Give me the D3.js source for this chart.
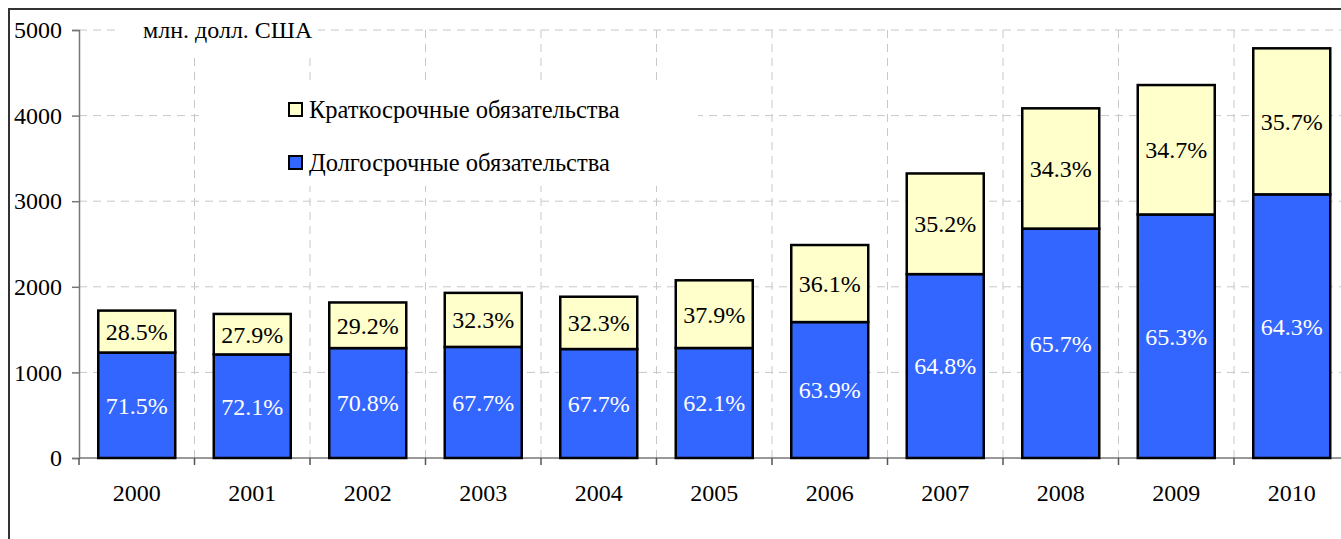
<!DOCTYPE html>
<html>
<head>
<meta charset="utf-8">
<script src="https://cdn.jsdelivr.net/npm/d3@7"></script>
<style>
    body { margin: 0; background: #fff; }
</style>
</head>
<body>
<svg class="chart" width="1341" height="539"></svg>
<script>
// Data
const years = ["2000", "2001", "2002", "2003", "2004", "2005", "2006", "2007", "2008", "2009", "2010"];
const longTerm = [1232, 1210, 1284, 1298, 1273, 1285, 1588, 2148, 2680, 2845, 3080];
const shortTerm = [490, 473, 533, 631, 611, 791, 900, 1176, 1405, 1512, 1706];
const longLabels = ["71.5%", "72.1%", "70.8%", "67.7%", "67.7%", "62.1%", "63.9%", "64.8%", "65.7%", "65.3%", "64.3%"];
const shortLabels = ["28.5%", "27.9%", "29.2%", "32.3%", "32.3%", "37.9%", "36.1%", "35.2%", "34.3%", "34.7%", "35.7%"];
const yTicks = [0, 1000, 2000, 3000, 4000, 5000];
const seriesNames = ["Краткосрочные обязательства", "Долгосрочные обязательства"];
const unitLabel = "млн. долл. США";

// Dimensions
const margin = { top: 30, left: 79 };
const plotWidth = 1270.5;
const plotHeight = 428;
const fontFamily = "Liberation Serif";

const colors = { short: "#ffffcc", long: "#3366ff" };

const svg = d3.select(".chart").attr("font-family", fontFamily);

// outer frame
svg.append("rect")
    .attr("x", 9).attr("y", 9)
    .attr("width", 1400).attr("height", 600)
    .attr("fill", "none")
    .attr("stroke", "#333")
    .attr("stroke-width", 2);

const g = svg.append("g").attr("transform", `translate(${margin.left},${margin.top})`);

const x = d3.scaleBand()
    .domain(years)
    .range([0, plotWidth])
    .paddingInner(1 / 3)
    .paddingOuter(1 / 6);

const y = d3.scaleLinear().domain([0, 5000]).range([plotHeight, 0]);

// grid lines
g.selectAll(".hgrid")
    .data(yTicks.slice(1))
    .join("line")
    .attr("class", "hgrid")
    .attr("x1", 0).attr("x2", plotWidth)
    .attr("y1", d => y(d)).attr("y2", d => y(d))
    .attr("stroke", "#c8c8c8")
    .attr("stroke-dasharray", "8,6");

g.selectAll(".vgrid")
    .data(years.slice(1))
    .join("line")
    .attr("class", "vgrid")
    .attr("x1", d => x(d) - x.step() * x.paddingInner() / 2)
    .attr("x2", d => x(d) - x.step() * x.paddingInner() / 2)
    .attr("y1", 0).attr("y2", plotHeight)
    .attr("stroke", "#c8c8c8")
    .attr("stroke-dasharray", "8,6");

// white boxes behind title and legend (they hide the grid)
svg.append("rect").attr("x", 120).attr("y", 18).attr("width", 198).attr("height", 34).attr("fill", "#fff");
svg.append("rect").attr("x", 205).attr("y", 80).attr("width", 493).attr("height", 106).attr("fill", "#fff");

// axes
const yAxis = g.append("g")
    .call(d3.axisLeft(y).tickValues(yTicks).tickSize(7).tickPadding(10).tickFormat(d3.format("d")));
yAxis.attr("font-family", fontFamily);
yAxis.select(".domain").attr("stroke", "#777").attr("stroke-width", 1.5);
yAxis.selectAll(".tick line").attr("stroke", "#777").attr("stroke-width", 1.5);
yAxis.selectAll("text")
    .attr("font-family", fontFamily)
    .attr("font-size", "24px")
    .attr("fill", "#000");

const edges = d3.range(years.length + 1).map(i => i * x.step());
g.append("line")
    .attr("x1", 0).attr("x2", plotWidth)
    .attr("y1", plotHeight).attr("y2", plotHeight)
    .attr("stroke", "#777").attr("stroke-width", 1.5);
g.selectAll(".xtick")
    .data(edges)
    .join("line")
    .attr("class", "xtick")
    .attr("x1", d => d).attr("x2", d => d)
    .attr("y1", plotHeight).attr("y2", plotHeight + 7)
    .attr("stroke", "#555").attr("stroke-width", 1.5);

g.selectAll(".xlabel")
    .data(years)
    .join("text")
    .attr("class", "xlabel")
    .attr("x", d => x(d) + x.bandwidth() / 2)
    .attr("y", plotHeight + 43)
    .attr("text-anchor", "middle")
    .attr("font-family", fontFamily)
    .attr("font-size", "24px")
    .text(d => d);

// bars
const bars = g.selectAll(".bar")
    .data(years)
    .join("g")
    .attr("class", "bar")
    .attr("transform", d => `translate(${x(d)},0)`);

bars.append("rect")
    .attr("y", (d, i) => y(longTerm[i]))
    .attr("width", x.bandwidth())
    .attr("height", (d, i) => y(0) - y(longTerm[i]))
    .attr("fill", colors.long)
    .attr("stroke", "#000")
    .attr("stroke-width", 2.5);

bars.append("rect")
    .attr("y", (d, i) => y(longTerm[i] + shortTerm[i]))
    .attr("width", x.bandwidth())
    .attr("height", (d, i) => y(longTerm[i]) - y(longTerm[i] + shortTerm[i]))
    .attr("fill", colors.short)
    .attr("stroke", "#000")
    .attr("stroke-width", 2.5);

bars.append("text")
    .attr("x", x.bandwidth() / 2)
    .attr("y", (d, i) => y(longTerm[i] / 2))
    .attr("dy", "0.35em")
    .attr("text-anchor", "middle")
    .attr("font-family", fontFamily)
    .attr("font-size", "24px")
    .attr("fill", "#fff")
    .text((d, i) => longLabels[i]);

bars.append("text")
    .attr("x", x.bandwidth() / 2)
    .attr("y", (d, i) => y(longTerm[i] + shortTerm[i] / 2))
    .attr("dy", "0.35em")
    .attr("text-anchor", "middle")
    .attr("font-family", fontFamily)
    .attr("font-size", "24px")
    .attr("fill", "#000")
    .text((d, i) => shortLabels[i]);

// unit label
svg.append("text")
    .attr("x", 143).attr("y", 38)
    .attr("font-family", fontFamily)
    .attr("font-size", "24px")
    .text(unitLabel);

// legend
const legend = svg.append("g").attr("transform", "translate(289,0)");
const legendItems = [
    { name: seriesNames[0], color: colors.short, y: 109 },
    { name: seriesNames[1], color: colors.long, y: 162 }
];
legend.selectAll("rect")
    .data(legendItems)
    .join("rect")
    .attr("x", 0)
    .attr("y", d => d.y - 6)
    .attr("width", 13).attr("height", 13)
    .attr("fill", d => d.color)
    .attr("stroke", "#000")
    .attr("stroke-width", 2);
legend.selectAll("text")
    .data(legendItems)
    .join("text")
    .attr("x", 20)
    .attr("y", d => d.y)
    .attr("dy", "0.35em")
    .attr("font-family", fontFamily)
    .attr("font-size", "24.5px")
    .text(d => d.name);
</script>
</body>
</html>
